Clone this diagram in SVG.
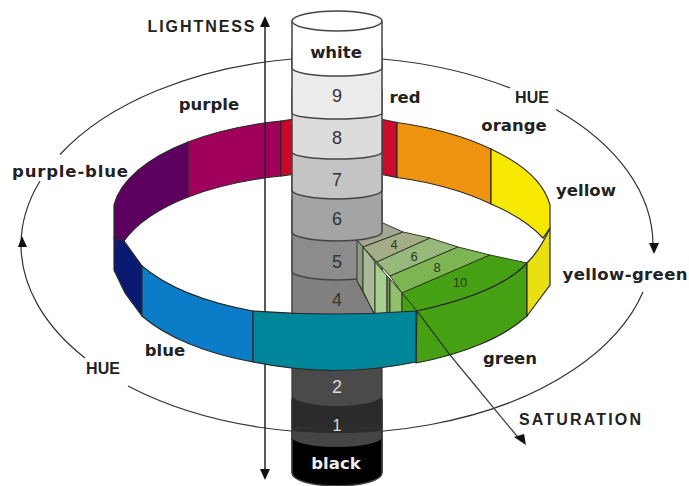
<svg xmlns="http://www.w3.org/2000/svg" width="689" height="486" viewBox="0 0 689 486">
<style>
.b{stroke:#2a2a2a;stroke-width:1.2}
.c{stroke:#444;stroke-width:1.5}
.h{fill:none;stroke:#333;stroke-width:1.2}
.w{stroke:#2f3a22;stroke-width:1}
.ax{fill:none;stroke:#222;stroke-width:1.5}
text{font-family:"DejaVu Sans","Liberation Sans",sans-serif;font-weight:bold;font-size:16.500px;fill:#222;text-anchor:middle}
.n{font-family:"Liberation Sans",Arial,sans-serif;font-weight:normal;font-size:18px;fill:#333}
.m{font-family:"Liberation Sans",Arial,sans-serif;font-weight:normal;font-size:13px;fill:#2a3a1a}
.u{font-family:"Liberation Sans",Arial,sans-serif;font-size:16px}
</style>
<g id="connectors-hue">
<path class="h" d="M292 59A316 188 0 0 0 60 154.500"/>
<path class="h" d="M40 181A316 188 0 0 0 21 245A316 188 0 0 0 85 358"/>
<path class="h" d="M128 386A316 188 0 0 0 643 292"/>
<path class="h" d="M382 59A316 188 0 0 1 510 88"/>
<path class="h" d="M556 109.500A316 188 0 0 1 653 245"/>
<path d="M18 247L22 236L27 247Z" fill="#111"/>
<path d="M649 243L654 254L659 243Z" fill="#111"/>
</g>
<g id="ring-back">
<path class="b" fill="#5e0060" d="M188 142A218 98 0 0 0 114 205V238L124 241A218 98 0 0 1 188 197Z"/>
<path class="b" fill="#a0005c" d="M188 142A218 98 0 0 1 281 121V176A218 98 0 0 0 188 197Z"/>
<path class="b" fill="#c80a28" d="M281 121L295 119V174L281 176Z"/>
<path class="b" fill="#cc0a2a" d="M380 119L397 122.500V177.500L380 174Z"/>
<path class="b" fill="#ee9410" d="M397 122.500A218 98 0 0 1 491 149V204A218 98 0 0 0 397 177.500Z"/>
<path class="b" fill="#f6e800" d="M491 149A218 98 0 0 1 550 205V228L543 238A218 98 0 0 0 491 204Z"/>
</g>
<path id="axis" class="ax" d="M265 24V472"/>
<path d="M260 27L265 16L270 27Z" fill="#111"/>
<path d="M260 469H270L265 480Z" fill="#111"/>
<g id="cylinder-lower">
<path class="c" fill="#000" d="M292 400V473A45 13 0 0 0 382 473V400Z"/>
<path fill="#2b2b2b" d="M292 380V437A45 10 0 0 0 382 437V380Z"/>
<path fill="#454545" d="M292 430A45 3 0 0 0 382 430V437A45 10 0 0 1 292 437Z"/>
<path fill="#4a4a4a" d="M292 340V395A45 11 0 0 0 382 395V340Z"/>
<path class="h" d="M292 340V473M382 340V473"/>
<path class="h" d="M292 426A45 3 0 0 0 382 426"/>
<path class="c" fill="#808080" d="M292 240V320H382V240Z"/>
<path class="c" fill="#8c8c8c" d="M292 200V271A45 9 0 0 0 382 271V200Z"/>
</g>
<g id="wedge">
<path class="w" fill="#a5a596" d="M383 223L403 232L363 247L357 240Z"/>
<path class="w" fill="#a4ad88" d="M403 232L430 238L377 262L363 247Z"/>
<path class="w" fill="#98b97c" d="M430 238L458 247L390 276L377 262Z"/>
<path class="w" fill="#7db552" d="M458 247L490 255L402 293L390 276Z"/>
<path class="w" fill="#46a014" d="M490 255L527 263Q500 293 417 311L402 293Z"/>
<path class="w" fill="#8f9a80" d="M357 240L363 247V291L357 281Z"/>
<path class="w" fill="#a9b998" d="M363 247L375 262V314H374L363 291Z"/>
<path class="w" fill="#a8cf8f" d="M375 262L387 276V314H375Z"/>
<path class="w" fill="#6f8f60" d="M387 276L390 279V314H387Z"/>
<path class="w" fill="#93bf6d" d="M390 279L402 293V314H390Z"/>
<path class="w" fill="#46a014" d="M402 293L417 311V314H402Z"/>
<path class="w" d="M357 281L374 313" fill="none"/>
</g>
<g id="cylinder-upper">
<path class="c" fill="#a4a4a4" d="M292 150V232A45 9 0 0 0 382 232V150Z"/>
<path class="c" fill="#c4c4c4" d="M292 120V190A45 9 0 0 0 382 190V120Z"/>
<path class="c" fill="#dcdcdc" d="M292 90V152A45 7 0 0 0 382 152V90Z"/>
<path class="c" fill="#ececec" d="M292 50V113A45 6 0 0 0 382 113V50Z"/>
<path class="c" fill="#fff" d="M292 22V68A45 8 0 0 0 382 68V22Z"/>
<ellipse class="c" fill="#fff" cx="337" cy="21" rx="45" ry="10"/>
</g>
<g id="ring-front">
<path class="b" fill="#0a1a70" d="M114 238L124 241L142 266V316L125 293L114 270Z"/>
<path class="b" fill="#0a7cc8" d="M142 266A218 98 0 0 0 253 311V362A218 98 0 0 1 142 316Z"/>
<path class="b" fill="#46a014" d="M417 311Q500 293 527 263V316A218 98 0 0 1 416 363Z"/>
<path class="b" fill="#e8e010" d="M527 263Q540 250 550 228V285L527 316Z"/>
<path class="b" fill="#00869a" d="M253 311Q335 317 416 311V362Q335 379 253 362Z"/>
</g>
<g id="connector-saturation">
<path d="M417 311L450 355" fill="none" stroke="#1f2f10" stroke-width="1.2"/>
<path d="M450 355L521 441" fill="none" stroke="#444" stroke-width="1.3"/>
<path d="M514 437L524 434L526 445Z" fill="#111"/>
</g>
<g id="labels">
<text x="336" y="58">white</text>
<text class="n" x="337" y="102">9</text>
<text class="n" x="337" y="144">8</text>
<text class="n" x="337" y="186">7</text>
<text class="n" x="337" y="225">6</text>
<text class="n" x="337" y="268">5</text>
<text class="n" x="337" y="306">4</text>
<text class="n" x="337" y="393" style="fill:#ddd">2</text>
<text class="n" x="337" y="431" style="fill:#ddd;font-size:16px">1</text>
<text x="336" y="469" style="fill:#eee">black</text>
<text class="m" x="394" y="249">4</text>
<text class="m" x="414" y="261">6</text>
<text class="m" x="437" y="272">8</text>
<text class="m" x="460" y="287">10</text>
<text x="209" y="110">purple</text>
<text x="405" y="103">red</text>
<text x="514" y="131">orange</text>
<text x="586" y="196">yellow</text>
<text x="625" y="280" textLength="125">yellow-green</text>
<text x="510" y="364">green</text>
<text x="165" y="356">blue</text>
<text x="70" y="177" textLength="116">purple-blue</text>
<text class="u" x="103" y="374">HUE</text>
<text class="u" x="532" y="103">HUE</text>
<text class="u" x="201" y="32" textLength="107">LIGHTNESS</text>
<text class="u" x="580" y="425" textLength="122">SATURATION</text>
</g>
</svg>
